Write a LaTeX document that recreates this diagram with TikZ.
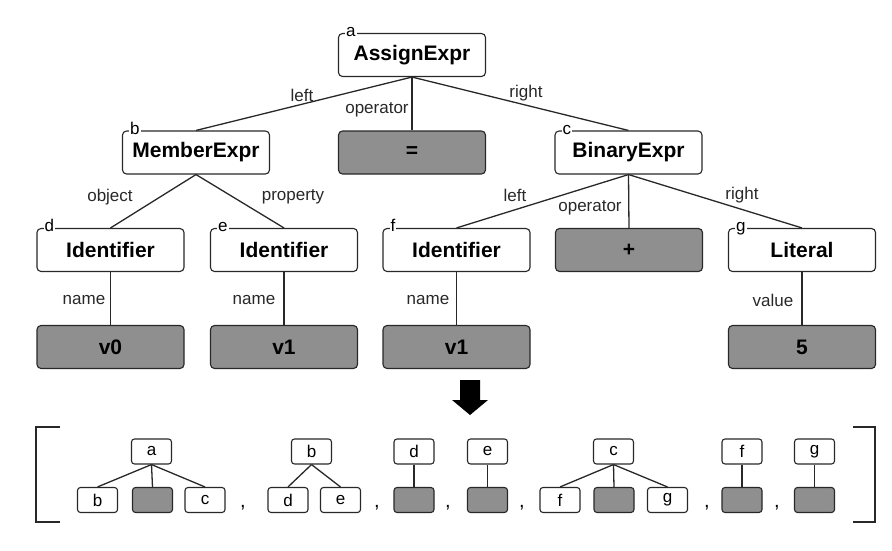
\documentclass[tikz,border=0pt]{standalone}
\usepackage{fontspec}
\setmainfont{Liberation Sans}
\usetikzlibrary{positioning}
\definecolor{ink}{RGB}{40,40,40}
\definecolor{leaf}{RGB}{143,143,143}

\begin{document}
\begin{tikzpicture}[x=1pt,y=-1pt,
  ast/.style={draw=ink,line width=1.1pt,rounded corners=4pt,fill=white,minimum width=147pt,minimum height=43pt,inner sep=0pt,font=\fontsize{21}{24}\selectfont\bfseries},
  val/.style={ast,fill=leaf},
  tag/.style={fill=white,inner sep=1pt,anchor=base west,font=\fontsize{17}{19}\selectfont},
  elab/.style={inner sep=0pt,text=ink,font=\fontsize{17}{19}\selectfont},
  link/.style={draw=ink,line width=1.3pt},
  mini/.style={draw=ink,line width=1.1pt,rounded corners=3pt,fill=white,minimum width=40pt,minimum height=25pt,inner sep=0pt,font=\fontsize{17}{19}\selectfont},
  minival/.style={mini,fill=leaf}]
  \useasboundingbox (0,0) rectangle (892,551);
  % the tree
  \node[ast] (a) at (412,55) {AssignExpr};
  \node[ast] (b) at (196,152.5) {MemberExpr};
  \node[val] (eq) at (412,152.5) {=};
  \node[ast] (c) at (628.5,152.5) {BinaryExpr};
  \node[ast] (d) at (110.5,250) {Identifier};
  \node[ast] (e) at (284,250) {Identifier};
  \node[ast] (f) at (456.5,250) {Identifier};
  \node[val] (plus) at (629,250) {+};
  \node[ast] (g) at (802,250) {Literal};
  \node[val] (vd) at (110.5,347) {v0};
  \node[val] (ve) at (284,347) {v1};
  \node[val] (vf) at (456.5,347) {v1};
  \node[val] (vg) at (802,347) {5};
  \foreach \n in {a,b,c,d,e,f,g} {\node[tag] (tag\n) at ([shift={(7,4)}]\n.north west) {\n};}
  \foreach \p/\q in {a/b,a/eq,a/c,b/d,b/e,c/f,c/plus,c/g,d/vd,e/ve,f/vf,g/vg} {\draw[link] (\p.south) -- (\q.north);}
  \node[elab] (l-ab) at (302,95) {left};
  \node[elab] (l-aeq) at (377,110) {operator};
  \node[elab] (l-ac) at (526,93) {right};
  \node[elab] (l-bd) at (110,197) {object};
  \node[elab] (l-be) at (293,197) {property};
  \node[elab] (l-cf) at (515,195) {left};
  \node[elab] (l-cplus) at (590,208) {operator};
  \node[elab] (l-cg) at (742,195) {right};
  \node[elab] (l-d) at (84,300) {name};
  \node[elab] (l-e) at (254,300) {name};
  \node[elab] (l-f) at (428,300) {name};
  \node[elab] (l-g) at (773,300) {value};
  % arrow
  \fill[black] (460,380) -- (480,380) -- (480,400) -- (488,400) -- (470,415) -- (452,400) -- (460,400) -- cycle;
  % the list of subtrees
  \draw[ink,line width=1.8pt] (60,427) -- (36,427) -- (36,522) -- (60,522);
  \draw[ink,line width=1.8pt] (853,427) -- (875,427) -- (875,522) -- (853,522);
  \node[mini] (sa) at (151.5,451.5) {a};
  \node[mini] (sab) at (97.5,500) {b};
  \node[minival] (saeq) at (152.5,500) {};
  \node[mini] (sac) at (205,500) {c};
  \node[mini] (sb) at (311.5,451.5) {b};
  \node[mini] (sbd) at (288,500) {d};
  \node[mini] (sbe) at (340.5,500) {e};
  \node[mini] (sc) at (613.5,451.5) {c};
  \node[mini] (scf) at (560,500) {f};
  \node[minival] (scplus) at (614,500) {};
  \node[mini] (scg) at (667.5,500) {g};
  \foreach \p/\q in {sa/sab,sa/saeq,sa/sac,sb/sbd,sb/sbe,sc/scf,sc/scplus,sc/scg} {\draw[link] (\p.south) -- (\q.north);}
  \foreach \n/\x in {d/414,e/487.5,f/742,g/814.5} {\node[mini] (s\n) at (\x,451.5) {\n}; \node[minival] (s\n v) at (\x,500) {}; \draw[link] (s\n.south) -- (s\n v.north);}
  \foreach \x in {243,377,448,522,707,777} {\node[font=\fontsize{20}{22}\selectfont,inner sep=0pt,anchor=base] (comma\x) at (\x,507) {,};}
\end{tikzpicture}
\end{document}
